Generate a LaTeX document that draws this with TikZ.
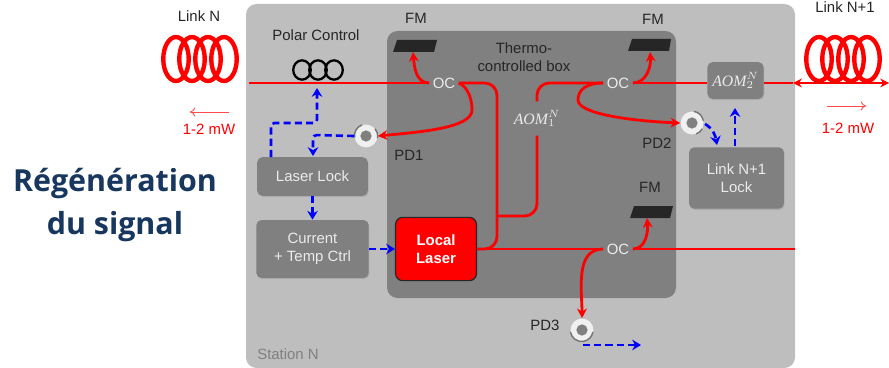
\documentclass[tikz,border=0pt]{standalone}
\usepackage{fontspec}
\setmainfont{Liberation Sans}
\newfontfamily\titlefont{Open Sans}
\newfontfamily\aomfont{Liberation Serif}
\usetikzlibrary{arrows.meta, shapes.geometric, shadows}
\definecolor{stationgray}{HTML}{BEBEBE}
\definecolor{boxgray}{HTML}{808080}
\definecolor{titleblue}{HTML}{17375E}
\newcommand{\aomname}[1]{{\aomfont\itshape AOM}$_{#1}^{N}$}
\tikzset{
    lbl/.style={font=\fontsize{8.5}{10.5}\selectfont, align=center, text=black!85, inner sep=0pt},
    ctrl/.style={fill=boxgray, rounded corners=3pt, font=\fontsize{8.5}{10.5}\selectfont, align=center, text=white!92!black, inner sep=0pt,
        drop shadow={shadow xshift=.4pt, shadow yshift=-.6pt, opacity=.3}},
    coupler/.style={ctrl, minimum width=16.5pt, minimum height=10pt},
    aom/.style={ctrl, font=\fontsize{9}{11}\selectfont},
    coil/.style={ellipse, draw=red, line width=2.5pt, minimum width=14.5pt, minimum height=25pt, inner sep=0pt},
    polarloop/.style={ellipse, draw=black, line width=1.3pt, minimum width=10pt, minimum height=11pt, inner sep=0pt},
    diode/.style={circle, fill=white!94!black, minimum size=13pt, inner sep=0pt},
    fiber/.style={draw=red, line width=1.6pt, rounded corners=7pt},
    fiberarrow/.style={fiber, sharp corners, -{Stealth[length=5.5pt,width=5.5pt]}},
    sig/.style={draw=blue, line width=1.5pt, dash pattern=on 4pt off 2.4pt, -{Stealth[length=5pt,width=6pt]}},
    power/.style={draw=red!70, line width=.5pt, -{To[length=3pt,width=5pt]}},
    mirror/.style={fill=black!85}
}
\begin{document}
\begin{tikzpicture}[x=0.02cm, y=-0.02cm]
    \useasboundingbox (0,0) rectangle (889,368);

    % Boxes in the back
    \fill[stationgray, rounded corners=6pt] (246,4) rectangle (795,368);
    \fill[boxgray, rounded corners=6pt] (387,31) rectangle (676,298);

    % Mirrors
    \fill[mirror] (393,52) -- (397,40) -- (437,40) -- (434,52) -- cycle;
    \fill[mirror] (628,51) -- (632,39) -- (671,39) -- (669,51) -- cycle;
    \fill[mirror] (630,218) -- (634,206) -- (673,206) -- (670,218) -- cycle;
    \coordinate (fm1) at (413,52);
    \coordinate (fm2) at (650,52);
    \coordinate (fm3) at (647,218);

    % Fibre spools
    \foreach \x [count=\i] in {176,192,208,224} \node[coil] (spoolA\i) at (\x,59) {};
    \foreach \x [count=\i] in {819,835,851,867} \node[coil] (spoolB\i) at (\x,59) {};
    \foreach \x [count=\i] in {302,318,334} \node[polarloop] (loop\i) at (\x,70) {};

    % Blocks
    \node[ctrl, minimum width=63pt, minimum height=22pt] (lock) at (312.5,176.5) {Laser Lock};
    \node[ctrl, minimum width=64pt, minimum height=33pt] (ctrl) at (312.5,249) {Current\\+ Temp Ctrl};
    \node[ctrl, minimum width=54pt, minimum height=35pt] (lockB) at (736.5,178) {Link N+1\\Lock};
    \node[draw=black!85, fill=red, rounded corners=4pt, line width=.7pt, minimum width=46pt, minimum height=36pt,
        text=white, align=center, inner sep=0pt, font=\fontsize{8.5}{10.5}\selectfont\bfseries] (laser) at (436,249) {Local\\Laser};
    \node[aom, minimum width=28pt, minimum height=19pt] (aom1) at (537,118.5) {\aomname{1}};
    \node[aom, minimum width=32pt, minimum height=21pt] (aom2) at (735.5,80.5) {\aomname{2}};
    \node[coupler] (oc1) at (444,83) {OC};
    \node[coupler] (oc2) at (618,83) {OC};
    \node[coupler] (oc3) at (618,249) {OC};

    % Photodiodes
    \node[diode] (pd1) at (366,136) {};
    \node[diode] (pd2) at (692,123) {};
    \node[diode] (pd3) at (582,330) {};
    \foreach \d in {pd1,pd2,pd3} \fill[boxgray] (\d) circle (3.2pt);
    \draw[black!55, line width=.8pt] (pd1.110) arc[start angle=110, end angle=190, radius=6.5pt];
    \draw[black!55, line width=.8pt] (pd1.350) arc[start angle=350, end angle=400, radius=6.5pt];
    \draw[black!55, line width=.8pt] (pd2.80) arc[start angle=80, end angle=10, radius=6.5pt];
    \draw[black!55, line width=.8pt] (pd2.330) arc[start angle=330, end angle=290, radius=6.5pt];
    \draw[black!55, line width=.8pt] (pd3.190) arc[start angle=190, end angle=350, radius=6.5pt];

    % Free ends
    \coordinate (inN) at (249,83);
    \coordinate (outN) at (889,83);
    \coordinate (edgeN) at (793,83);
    \coordinate (edge3) at (795,249);
    \coordinate (join1) at (497,216);
    \coordinate (corner1) at (497,83);
    \coordinate (corner2) at (497,249);
    \coordinate (corner3) at (537,216);
    \coordinate (corner4) at (537,83);
    \coordinate (corner5) at (271,123);
    \coordinate (corner6) at (317,123);
    \coordinate (corner7) at (313,135);
    \coordinate (bend1) at (472,110);
    \coordinate (bend2) at (578,100);
    \coordinate (tap1) at (271,157);
    \coordinate (poltip) at (317,88);
    \coordinate (locktip) at (313,156);
    \coordinate (pd3out) at (641,345);
    \coordinate (pd3from) at (583,345);
    \coordinate (pd2from) at (705,124);
    \coordinate (pd2tip) at (717,145);
    \coordinate (aomfrom) at (735,146);
    \coordinate (aomtip) at (735,108);
    \coordinate (arrowAa) at (229,112);
    \coordinate (arrowAb) at (190,112);
    \coordinate (arrowBa) at (827,106);
    \coordinate (arrowBb) at (866,106);

    % Red fibres
    \draw[fiber] (inN) -- (oc1.west);
    \draw[fiberarrow] (oc1.west) to[out=180, in=-85] (fm1);
    \draw[fiber] (oc1.east) -- (corner1) -- (corner2) -- (laser.east);
    \draw[fiberarrow] (oc1.east) .. controls (466,86) and (472,96) .. (bend1) .. controls (472,128) and (420,132) .. (pd1.east);
    \draw[fiber] (aom1.south) -- (corner3) -- (join1);
    \draw[fiber] (aom1.north) -- (corner4) -- (oc2.west);
    \draw[fiberarrow] (oc2.east) to[out=0, in=-85] (fm2);
    \draw[fiber] (oc2.east) -- (aom2.west |- oc2.east);
    \draw[fiber] (aom2.east |- edgeN) -- (edgeN);
    \draw[fiberarrow] (oc2.west) .. controls (586,83) and (578,90) .. (bend2) .. controls (578,114) and (632,121) .. (pd2.west);
    \draw[fiber, {Stealth[length=5pt,width=5pt]}-{Stealth[length=5pt,width=5pt]}, line width=1.2pt] (edgeN) -- (outN);
    \draw[fiber] (laser.east) -- (oc3.west);
    \draw[fiberarrow] (oc3.east) to[out=0, in=-85] (fm3);
    \draw[fiber] (oc3.east) -- (edge3);
    \draw[fiberarrow] (oc3.west) to[out=180, in=90] (pd3.north);

    % Blue signals
    \draw[sig, rounded corners=2pt] (tap1) -- (corner5) -- (corner6) -- (poltip);
    \draw[sig, rounded corners=2pt] (pd1.west) -- (corner7) -- (locktip);
    \draw[sig] (lock.south) -- (ctrl.north);
    \draw[sig] (ctrl.east) -- (laser.west);
    \draw[sig] (pd2from) to[out=-30, in=100] (pd2tip);
    \draw[sig] (aomfrom) -- (aomtip);
    \draw[sig] (pd3from) -- (pd3out);

    % Optical power
    \draw[power] (arrowAa) -- (arrowAb);
    \draw[power] (arrowBa) -- (arrowBb);

    % Labels
    \node[lbl] (linkN) at (199,16) {Link N};
    \node[lbl] (linkNB) at (845,7) {Link N+1};
    \node[lbl] (polar) at (316,35) {Polar Control};
    \node[lbl] (fmA) at (416,18) {FM};
    \node[lbl] (fmB) at (653,19) {FM};
    \node[lbl] (fmC) at (650,187) {FM};
    \node[lbl] (thermo) at (524,57) {Thermo-\\controlled box};
    \node[lbl] (pdA) at (409,155) {PD1};
    \node[lbl] (pdB) at (657,143) {PD2};
    \node[lbl] (pdC) at (545,325) {PD3};
    \node[lbl, text=red] (mwA) at (209,129) {1-2 mW};
    \node[lbl, text=red] (mwB) at (848,128) {1-2 mW};
    \node[lbl, text=black!50] (station) at (288,354) {Station N};
    \node[align=center, text=titleblue, inner sep=0pt, font=\titlefont\fontsize{17.3}{25}\selectfont\bfseries] (title) at (115,205) {Régénération\\du signal};
\end{tikzpicture}
\end{document}
